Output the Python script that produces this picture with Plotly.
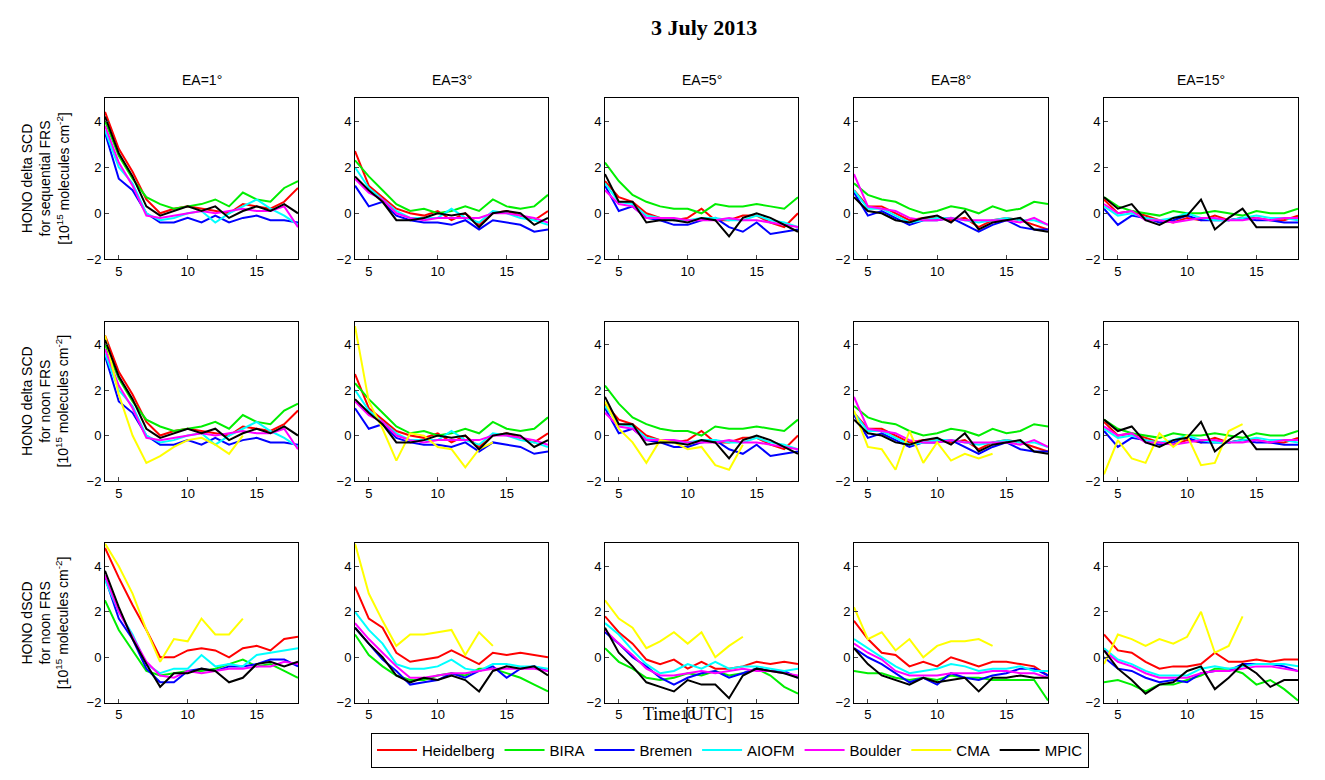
import plotly.graph_objects as go
from plotly.subplots import make_subplots

hours = list(range(4, 19))
cma_hours = list(range(4, 15))
angles = ["EA=1°", "EA=3°", "EA=5°", "EA=8°", "EA=15°"]
names = ["Heidelberg", "BIRA", "Bremen", "AIOFM", "Boulder", "CMA", "MPIC"]
colors = {"Heidelberg": "#ff0000", "BIRA": "#00ee00", "Bremen": "#0000ff", "AIOFM": "#00ffff",
          "Boulder": "#ff00ff", "CMA": "#ffff00", "MPIC": "#000000"}

# row 1: delta SCD, sequential FRS
seq = [
    {"Heidelberg": [4.4,2.8,1.8,0.6,0.0,0.2,0.3,0.2,0.1,0.0,0.4,0.3,0.2,0.5,1.1],
     "BIRA": [4.0,2.5,1.5,0.7,0.4,0.2,0.3,0.4,0.6,0.3,0.9,0.6,0.5,1.1,1.4],
     "Bremen": [3.5,1.5,1.0,0.0,-0.4,-0.4,-0.2,-0.4,-0.1,-0.4,-0.2,-0.1,-0.3,-0.3,-0.4],
     "AIOFM": [3.6,2.0,1.3,0.0,-0.3,-0.2,0.0,0.1,-0.4,0.0,0.3,0.6,0.2,-0.1,-0.5],
     "Boulder": [3.8,2.2,1.2,-0.1,-0.2,-0.1,0.0,0.1,0.0,0.1,0.2,0.1,0.1,0.3,-0.6],
     "MPIC": [4.2,2.6,1.6,0.3,-0.1,0.1,0.3,0.1,0.3,-0.2,0.1,0.3,0.1,0.4,0.0]},
    {"Heidelberg": [2.7,1.2,0.7,0.2,0.0,-0.1,0.1,-0.3,0.0,-0.5,0.0,0.1,-0.1,-0.3,0.1],
     "BIRA": [2.3,1.6,1.0,0.4,0.1,0.2,0.0,0.1,0.3,0.1,0.6,0.3,0.2,0.3,0.8],
     "Bremen": [1.2,0.3,0.5,-0.1,-0.3,-0.4,-0.4,-0.5,-0.3,-0.7,-0.3,-0.4,-0.5,-0.8,-0.7],
     "AIOFM": [2.0,1.1,0.6,0.1,-0.2,-0.2,-0.2,0.2,-0.2,-0.4,0.1,0.0,-0.2,-0.3,-0.5],
     "Boulder": [1.5,0.9,0.6,0.0,-0.2,-0.3,-0.2,-0.2,-0.2,-0.2,0.0,0.0,-0.1,-0.2,-0.4],
     "MPIC": [1.6,1.0,0.5,-0.3,-0.3,-0.2,0.0,-0.1,0.0,-0.6,0.0,0.1,0.0,-0.5,-0.2]},
    {"Heidelberg": [1.4,0.7,0.5,0.0,-0.2,-0.3,-0.2,0.2,-0.3,-0.3,-0.1,-0.1,-0.4,-0.6,0.0],
     "BIRA": [2.2,1.4,0.8,0.5,0.3,0.2,0.2,0.0,0.4,0.3,0.3,0.4,0.3,0.2,0.7],
     "Bremen": [1.2,0.1,0.3,-0.2,-0.3,-0.5,-0.5,-0.3,-0.2,-0.6,-0.8,-0.4,-0.9,-0.8,-0.7],
     "AIOFM": [1.3,0.5,0.4,-0.1,-0.2,-0.3,-0.3,-0.2,-0.2,-0.3,-0.3,-0.1,-0.3,-0.4,-0.6],
     "Boulder": [1.0,0.4,0.3,-0.2,-0.2,-0.2,-0.3,-0.3,-0.3,-0.2,-0.3,-0.3,-0.4,-0.5,-0.6],
     "MPIC": [1.7,0.5,0.5,-0.4,-0.3,-0.3,-0.4,-0.2,-0.3,-1.0,-0.2,0.0,-0.2,-0.5,-0.8]},
    {"Heidelberg": [1.0,0.3,0.3,0.0,-0.3,-0.2,-0.2,-0.3,-0.2,-0.6,-0.3,-0.2,-0.3,-0.5,-0.7],
     "BIRA": [1.3,0.8,0.6,0.5,0.2,0.0,0.1,0.3,0.2,0.0,0.3,0.1,0.2,0.5,0.4],
     "Bremen": [0.9,-0.1,0.1,-0.2,-0.5,-0.3,-0.3,-0.2,-0.5,-0.8,-0.5,-0.3,-0.6,-0.7,-0.7],
     "AIOFM": [1.0,0.2,0.2,-0.1,-0.4,-0.3,-0.2,-0.2,-0.3,-0.4,-0.3,-0.2,-0.3,-0.3,-0.5],
     "Boulder": [1.7,0.3,0.2,0.1,-0.2,-0.3,-0.3,-0.2,-0.3,-0.3,-0.3,-0.3,-0.4,-0.2,-0.5],
     "MPIC": [0.7,0.1,0.0,-0.3,-0.4,-0.2,-0.1,-0.4,0.1,-0.7,-0.4,-0.3,-0.2,-0.7,-0.8]},
    {"Heidelberg": [0.6,0.0,0.1,-0.1,-0.3,-0.4,-0.2,-0.3,-0.1,-0.3,-0.2,-0.2,-0.3,-0.3,-0.1],
     "BIRA": [0.7,0.3,0.1,0.0,-0.1,0.1,0.0,0.0,0.1,0.0,-0.1,0.1,0.0,0.0,0.2],
     "Bremen": [0.2,-0.5,-0.1,-0.2,-0.4,-0.3,-0.1,-0.3,-0.3,-0.3,-0.2,-0.3,-0.3,-0.4,-0.4],
     "AIOFM": [0.3,-0.1,0.0,-0.2,-0.3,-0.2,0.0,-0.2,-0.3,-0.3,-0.2,-0.1,-0.2,-0.2,-0.3],
     "Boulder": [0.4,0.0,0.1,-0.3,-0.3,-0.4,-0.3,-0.2,-0.2,-0.3,-0.3,-0.2,-0.3,-0.2,-0.2],
     "MPIC": [0.7,0.2,0.4,-0.3,-0.5,-0.2,-0.1,0.6,-0.7,-0.2,0.2,-0.6,-0.6,-0.6,-0.6]},
]

# row 2: delta SCD, noon FRS (same instruments as row 1 plus CMA)
noon_cma = [
    [4.4,1.8,0.0,-1.2,-0.9,-0.5,-0.2,-0.1,-0.4,-0.8,0.0],
    [4.8,1.5,0.3,-1.1,0.1,0.0,-0.5,-0.6,-1.4,-0.6,-0.3],
    [1.5,0.3,-0.3,-1.2,-0.2,-0.3,-0.6,-0.5,-1.3,-1.5,-0.4],
    [1.1,-0.5,-0.6,-1.5,0.2,-1.2,-0.3,-1.1,-0.8,-1.0,-0.8],
    [-1.7,-0.2,-1.0,-1.2,0.1,-0.5,0.0,-1.3,-1.2,0.2,0.5],
]
noon = [dict(s, CMA=c) for s, c in zip(seq, noon_cma)]

# row 3: dSCD, noon FRS
dscd = [
    {"Heidelberg": [4.8,3.5,2.3,1.2,0.0,0.0,0.3,0.4,0.3,0.0,0.4,0.5,0.3,0.8,0.9],
     "BIRA": [2.5,1.2,0.3,-0.6,-0.8,-0.7,-0.6,-0.6,-0.5,-0.3,-0.1,-0.4,-0.3,-0.6,-0.9],
     "Bremen": [3.5,1.7,0.8,-0.5,-1.1,-1.1,-0.6,-0.5,-0.6,-0.4,-0.4,-0.3,-0.1,-0.1,-0.4],
     "AIOFM": [3.4,2.0,1.0,-0.3,-0.7,-0.5,-0.5,0.1,-0.4,-0.3,-0.4,0.1,0.2,0.3,0.4],
     "Boulder": [3.6,2.0,0.9,-0.2,-0.8,-0.9,-0.6,-0.7,-0.6,-0.5,-0.5,-0.4,-0.4,-0.2,-0.3],
     "CMA": [5.0,4.0,2.8,1.2,-0.2,0.8,0.7,1.7,1.0,1.0,1.7],
     "MPIC": [3.8,2.2,0.8,-0.3,-1.3,-0.7,-0.7,-0.5,-0.6,-1.1,-0.9,-0.3,-0.2,-0.4,-0.2]},
    {"Heidelberg": [3.1,1.7,1.3,0.2,-0.2,-0.1,0.0,0.3,0.0,-0.3,0.2,0.1,0.2,0.1,0.0],
     "BIRA": [1.0,0.1,-0.4,-0.8,-1.0,-1.0,-0.8,-0.7,-0.8,-0.5,-0.5,-0.7,-0.9,-1.2,-1.5],
     "Bremen": [1.3,0.6,-0.1,-0.6,-1.2,-1.1,-1.0,-0.7,-0.9,-0.6,-0.4,-0.9,-0.5,-0.4,-0.6],
     "AIOFM": [2.0,1.2,0.6,-0.3,-0.5,-0.5,-0.4,-0.1,-0.5,-0.6,-0.3,-0.3,-0.4,-0.4,-0.5],
     "Boulder": [1.5,0.8,0.2,-0.4,-0.9,-0.9,-0.8,-0.7,-0.7,-0.6,-0.5,-0.5,-0.5,-0.5,-0.6],
     "CMA": [5.0,2.8,1.6,0.5,1.0,1.0,1.1,1.2,0.1,1.1,0.5],
     "MPIC": [1.3,0.6,0.0,-0.8,-1.1,-0.9,-1.0,-0.8,-1.0,-1.5,-0.6,-0.4,-0.5,-0.4,-0.8]},
    {"Heidelberg": [1.8,1.1,0.6,-0.1,-0.3,-0.1,-0.5,-0.2,-0.5,-0.5,-0.4,-0.2,-0.3,-0.2,-0.3],
     "BIRA": [0.4,-0.2,-0.5,-0.9,-1.0,-0.9,-0.7,-0.8,-0.6,-0.8,-0.7,-0.5,-0.8,-1.3,-1.6],
     "Bremen": [1.1,0.6,0.0,-0.4,-0.9,-1.2,-0.9,-0.7,-0.6,-0.9,-0.7,-0.5,-0.6,-0.6,-0.9],
     "AIOFM": [1.5,1.0,0.3,-0.3,-0.7,-0.6,-0.3,-0.5,-0.2,-0.5,-0.4,-0.4,-0.5,-0.6,-0.5],
     "Boulder": [1.2,0.6,0.1,-0.5,-0.8,-0.8,-0.7,-0.6,-0.7,-0.6,-0.5,-0.6,-0.6,-0.7,-0.8],
     "CMA": [2.5,1.7,1.3,0.4,0.7,1.1,0.6,1.1,0.0,0.5,0.9],
     "MPIC": [1.3,0.2,-0.4,-1.1,-1.3,-1.5,-1.0,-1.2,-1.2,-1.8,-0.8,-0.5,-0.6,-0.7,-0.9]},
    {"Heidelberg": [1.6,0.8,0.2,0.1,-0.4,-0.2,-0.4,0.0,-0.2,-0.4,-0.2,-0.2,-0.3,-0.4,-0.8],
     "BIRA": [-0.6,-0.7,-0.7,-0.9,-1.0,-0.9,-1.0,-0.8,-0.9,-0.9,-1.0,-1.0,-1.0,-1.0,-1.9],
     "Bremen": [0.4,0.0,-0.3,-0.7,-1.1,-0.9,-1.2,-0.7,-0.9,-1.0,-0.8,-0.7,-0.5,-0.5,-0.8],
     "AIOFM": [0.8,0.4,0.0,-0.4,-0.7,-0.6,-0.5,-0.3,-0.4,-0.6,-0.5,-0.5,-0.4,-0.6,-0.6],
     "Boulder": [0.6,0.2,-0.1,-0.6,-0.8,-0.8,-0.8,-0.7,-0.7,-0.7,-0.6,-0.6,-0.7,-0.7,-0.9],
     "CMA": [2.2,0.8,1.1,0.3,0.8,0.0,0.5,0.7,0.7,0.8,0.5],
     "MPIC": [0.4,-0.3,-0.8,-1.0,-1.2,-0.9,-1.1,-1.0,-0.9,-1.5,-0.9,-0.9,-0.8,-0.9,-0.9]},
    {"Heidelberg": [1.0,0.3,0.2,-0.2,-0.5,-0.4,-0.4,-0.3,0.2,-0.2,-0.2,-0.1,-0.2,-0.1,-0.1],
     "BIRA": [-1.1,-1.0,-1.2,-1.5,-1.2,-1.2,-1.0,-0.8,-0.5,-0.5,-0.7,-1.2,-1.0,-1.4,-1.9],
     "Bremen": [0.0,-0.5,-0.6,-0.9,-1.1,-1.0,-1.1,-0.7,-0.6,-0.6,-0.3,-0.3,-0.3,-0.4,-0.6],
     "AIOFM": [0.4,-0.1,-0.3,-0.6,-0.8,-0.8,-0.8,-0.5,-0.4,-0.5,-0.4,-0.3,-0.3,-0.3,-0.4],
     "Boulder": [0.3,-0.2,-0.4,-0.7,-0.9,-0.9,-0.9,-0.7,-0.6,-0.6,-0.5,-0.4,-0.4,-0.5,-0.6],
     "CMA": [-0.3,1.0,0.8,0.5,0.8,0.6,0.9,2.0,0.2,0.5,1.8],
     "MPIC": [0.3,-0.5,-1.0,-1.6,-1.2,-1.1,-0.6,-0.4,-1.4,-0.9,-0.3,-0.7,-1.3,-1.0,-1.0]},
]

rows_data = [seq, noon, dscd]
row_labels = [
    "HONO delta SCD<br>for sequential FRS<br>[10<sup>15</sup> molecules cm<sup>-2</sup>]",
    "HONO delta SCD<br>for noon FRS<br>[10<sup>15</sup> molecules cm<sup>-2</sup>]",
    "HONO dSCD<br>for noon FRS<br>[10<sup>15</sup> molecules cm<sup>-2</sup>]",
]

W, H = 1325, 780
xpix = [(97, 290), (347, 540), (597, 790), (846, 1040), (1096, 1290)]
ypix = [(91, 254), (317, 478), (541, 702)]

fig = make_subplots(rows=3, cols=5)
for r, panels in enumerate(rows_data):
    for c, panel in enumerate(panels):
        for name in names:
            if name not in panel:
                continue
            ys = panel[name]
            xs = cma_hours if name == "CMA" else hours
            fig.add_trace(go.Scatter(x=xs, y=ys, mode="lines", name=name,
                                     line=dict(color=colors[name], width=2),
                                     showlegend=(r == 2 and c == 0)),
                          row=r + 1, col=c + 1)
        x0, x1 = xpix[c]
        y0, y1 = ypix[r]
        fig.update_xaxes(domain=[x0 / W, x1 / W], range=[4, 18], tickvals=[5, 10, 15],
                         row=r + 1, col=c + 1)
        fig.update_yaxes(domain=[1 - y1 / H, 1 - y0 / H], range=[-2, 5], tickvals=[-2, 0, 2, 4],
                         row=r + 1, col=c + 1)

fig.update_xaxes(showline=True, mirror=True, linecolor="black", linewidth=1, ticks="inside",
                 ticklen=4, showgrid=False, zeroline=False, tickfont=dict(size=13, color="black"))
fig.update_yaxes(showline=True, mirror=True, linecolor="black", linewidth=1, ticks="inside",
                 ticklen=4, showgrid=False, zeroline=False, tickfont=dict(size=13, color="black"))

order = ["Heidelberg", "BIRA", "Bremen", "AIOFM", "Boulder", "CMA", "MPIC"]
for t in fig.data:
    if t.showlegend:
        t.legendrank = order.index(t.name)

ann = [dict(text="<b>3 July 2013</b>", x=0.525, y=1 - 20 / H, xref="paper", yref="paper",
            xanchor="center", yanchor="middle", showarrow=False,
            font=dict(family="Liberation Serif", size=22, color="black"))]
for c, a in enumerate(angles):
    ann.append(dict(text=a, x=(xpix[c][0] + xpix[c][1]) / 2 / W, y=1 - 73 / H, xref="paper",
                    yref="paper", xanchor="center", yanchor="middle", showarrow=False,
                    font=dict(size=14, color="black")))
for r, lab in enumerate(row_labels):
    ann.append(dict(text=lab, x=37 / W, y=1 - (ypix[r][0] + ypix[r][1]) / 2 / H, xref="paper",
                    yref="paper", xanchor="center", yanchor="middle", showarrow=False,
                    textangle=-90, font=dict(size=14, color="black")))
ann.append(dict(text="Time [UTC]", x=680 / W, y=1 - 713 / H, xref="paper", yref="paper",
                xanchor="center", yanchor="middle", showarrow=False,
                font=dict(family="Liberation Serif", size=18, color="black")))

fig.update_layout(
    width=W, height=H, margin=dict(l=0, r=0, t=0, b=0),
    paper_bgcolor="white", plot_bgcolor="white",
    font=dict(family="Arial, Liberation Sans", color="black"),
    annotations=ann,
    legend=dict(orientation="h", x=722 / W, y=1 - 750 / H, xanchor="center", yanchor="middle",
                bordercolor="black", borderwidth=1, font=dict(size=15), itemwidth=40),
)

fig.write_html("out.html")
